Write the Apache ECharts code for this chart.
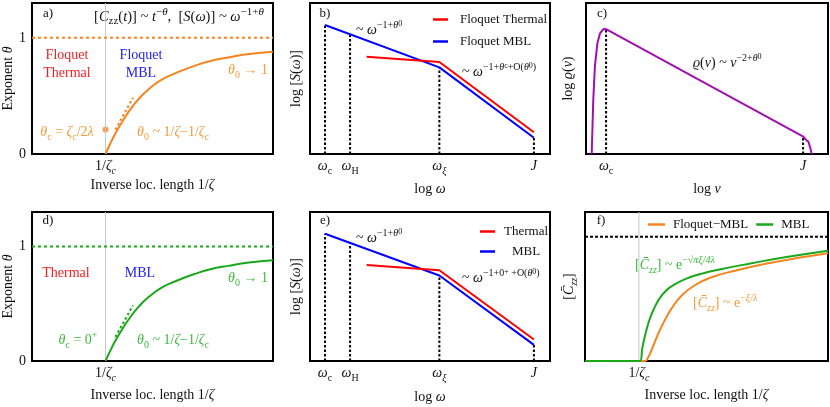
<!DOCTYPE html>
<html><head><meta charset="utf-8">
<script src="https://cdn.jsdelivr.net/npm/echarts@6/dist/echarts.min.js"></script>
<style>html,body{margin:0;padding:0;background:#fff}#c{width:830px;height:407px}</style>
</head><body><div id="c"></div>
<script>
// ================= DATA =================
// Panels a) and d): exponent theta vs inverse localization length (arbitrary units 0..100)
const invZetaC = 30.5;
const thetaX = [30.5, 32.5, 34.4, 37.5, 40.0, 44.1, 48.5, 53.8, 60, 67.6, 74, 81.3, 90, 100];
const thetaFloquet = [0, 0.09, 0.17, 0.28, 0.36, 0.47, 0.56, 0.64, 0.70, 0.76, 0.80, 0.83, 0.86, 0.88];
const thetaStatic = [0, 0.09, 0.17, 0.28, 0.36, 0.47, 0.56, 0.64, 0.70, 0.76, 0.80, 0.83, 0.86, 0.88];
const tangentX = [34.6, 41.9];
const tangentY = [0.21, 0.485];
const thetaCritical = 0.21;
const thetaTickVals = [0, 1];
const thetaTickLabels = ['0', '1'];
const invZetaTickVals = [30.5];
const invZetaTickLabels = ['{n|1/}{i|ζ}{isub|c}'];

// Panels b) and e): log S(omega) vs log omega
const specBlueX = [6.25, 53.9, 93.3];
const specBlueY = [85.4, 57.4, 10.8];
const specRedX = [23.6, 53.9, 93.3];
const specRedY = [64.4, 60.9, 14.4];
const specTickX = [6.25, 16.7, 53.9, 93.3];
const specTickLabels = ['{i|ω}{sub|c}', '{i|ω}{sub|H}', '{i|ω}{isub|ξ}', '{i|J}'];
const specDotTop = [85.4, 79.3, 57.4, 10.8];

// Panel c): log rho(nu) vs log nu
const rhoX = [2.36, 3.0, 3.7, 4.7, 5.8, 7.1, 8.1, 8.6, 89.8, 90.9, 91.9, 92.7, 93.3];
const rhoY = [0, 35.8, 58.5, 73.3, 79.9, 82.6, 82.8, 82.1, 11.5, 9.5, 8.1, 4, 0];
const rhoTickX = [8.3, 89.7];
const rhoTickLabels = ['{i|ω}{sub|c}', '{i|J}'];
const rhoDotTop = [82.7, 11.5];

// Panel f): [C_zz] vs inverse localization length
const corrZetaC = 22.2;
const corrLevel = 83.4;
const corrMblX = [0, 22.6, 23.6, 24.7, 26.1, 27.4, 28.8, 30.5, 32.9, 35.7, 41.2, 48, 54.9, 68.6, 82.3, 100];
const corrMblY = [0, 0, 9.0, 17.0, 25.5, 31.5, 36.5, 41.5, 46.5, 50.2, 55.0, 58.6, 61.3, 65.6, 69.6, 74];
const corrFloqX = [0, 24.7, 26.1, 27.4, 30.2, 32.9, 35.7, 39.8, 45.3, 52.1, 61.7, 75.4, 89.2, 100];
const corrFloqY = [0, 0, 2.9, 7.4, 18.6, 27.5, 35.5, 44.0, 51, 56.2, 60.6, 65.6, 69.6, 72.3];
const corrTickVals = [22.2];
const corrTickLabels = ['{n|1/}{i|ζ}{isub|c}'];

// ================= STYLE =================
const SERIF = '"Liberation Serif","DejaVu Serif",serif';
const ORANGE = '#f5841f', ORANGE_T = '#f39a3a';
const GREEN = '#1aa81a', GREEN_T = '#3cb83c';
const RED = '#ff0000', BLUE = '#0000ff', PURPLE = '#a010b0';
const RED_T = '#ee2222', BLUE_T = '#2222ee';

function rich(color, size) {
  size = size || 14;
  const s = Math.round(size * 0.74), ss = Math.round(size * 0.55);
  const base = {fontFamily: SERIF, color: color};
  return {
    n: Object.assign({fontSize: size, lineHeight: 20}, base),
    i: Object.assign({fontSize: size, fontStyle: 'italic', lineHeight: 20}, base),
    sub: Object.assign({fontSize: s, verticalAlign: 'bottom', lineHeight: 14}, base),
    isub: Object.assign({fontSize: s, fontStyle: 'italic', verticalAlign: 'bottom', lineHeight: 14}, base),
    sup: Object.assign({fontSize: s, verticalAlign: 'top', lineHeight: 11}, base),
    isup: Object.assign({fontSize: s, fontStyle: 'italic', verticalAlign: 'top', lineHeight: 11}, base),
    ssub: Object.assign({fontSize: ss, verticalAlign: 'top', lineHeight: 16}, base)
  };
}

function pairs(xs, ys) { return xs.map((x, i) => [x, ys[i]]); }

const grids = [
  {left: 32, top: 3, width: 241, height: 151},
  {left: 310, top: 3, width: 240, height: 151},
  {left: 586, top: 3, width: 242, height: 151},
  {left: 32, top: 212, width: 241, height: 149},
  {left: 310, top: 212, width: 240, height: 149},
  {left: 585, top: 212, width: 243, height: 149}
].map(g => Object.assign({show: true, borderColor: '#000', borderWidth: 2, containLabel: false}, g));

function xAx(idx, name, vals, labels, gap) {
  return {
    type: 'value', gridIndex: idx, min: 0, max: 100,
    axisLine: {show: false}, axisTick: {show: false}, splitLine: {show: false},
    axisLabel: {
      show: true, customValues: vals, margin: 2,
      formatter: v => { const k = vals.findIndex(t => Math.abs(t - v) < 1e-6); return k >= 0 ? labels[k] : ''; },
      rich: rich('#111', 14)
    },
    name: name, nameLocation: 'middle', nameGap: gap,
    nameTextStyle: {fontFamily: SERIF, fontSize: 14, color: '#111', rich: rich('#111', 14)}
  };
}
function yAx(idx, name, max, vals, labels, gap) {
  return {
    type: 'value', gridIndex: idx, min: 0, max: max,
    axisLine: {show: false}, axisTick: {show: false}, splitLine: {show: false},
    axisLabel: {
      show: !!vals, customValues: vals || [], margin: 6,
      formatter: v => { if (!vals) return ''; const k = vals.findIndex(t => Math.abs(t - v) < 1e-6); return k >= 0 ? labels[k] : ''; },
      fontFamily: SERIF, fontSize: 14, color: '#111'
    },
    name: name, nameLocation: 'middle', nameGap: gap, nameRotate: 90,
    nameTextStyle: {fontFamily: SERIF, fontSize: 14, color: '#111', rich: rich('#111', 14)}
  };
}

const xName1 = '{n|Inverse loc. length 1/}{i|ζ}';
const xAxes = [
  xAx(0, xName1, invZetaTickVals, invZetaTickLabels, 21),
  xAx(1, '{n|log }{i|ω}', specTickX, specTickLabels, 25),
  xAx(2, '{n|log }{i|ν}', rhoTickX, rhoTickLabels, 25),
  xAx(3, xName1, invZetaTickVals, invZetaTickLabels, 24),
  xAx(4, '{n|log }{i|ω}', specTickX, specTickLabels, 26),
  xAx(5, xName1, corrTickVals, corrTickLabels, 24)
];
const yAxes = [
  yAx(0, '{n|Exponent }{i|θ}', 1.3, thetaTickVals, thetaTickLabels, 12),
  yAx(1, '{n|log [}{i|S}{n|(}{i|ω}{n|)]}', 100, null, null, 4),
  yAx(2, '{n|log }{i|ϱ}{n|(}{i|ν}{n|)}', 100, null, null, 8),
  yAx(3, '{n|Exponent }{i|θ}', 1.3, thetaTickVals, thetaTickLabels, 12),
  yAx(4, '{n|log [}{i|S}{n|(}{i|ω}{n|)]}', 100, null, null, 4),
  yAx(5, '{n|[}{i|C̄}{isub|zz}{n|]}', 100, null, null, 6)
];

function line(gi, data, color, width, type, extra) {
  return Object.assign({
    type: 'line', xAxisIndex: gi, yAxisIndex: gi, data: data, showSymbol: false, symbol: 'none',
    silent: true, animation: false, color: color,
    lineStyle: {color: color, width: width, type: type || 'solid'}
  }, extra || {});
}

const series = [];
const DOT = [2.5, 2];
// ---- a)
series.push(line(0, [[invZetaC, 0], [invZetaC, 1.3]], '#c8c8c8', 1));
series.push(line(0, [[0, 1], [100, 1]], ORANGE, 2, [3, 3]));
series.push(line(0, pairs(tangentX, tangentY), ORANGE, 2, [2.5, 2.5]));
series.push(line(0, pairs(thetaX, thetaFloquet), ORANGE, 2, 'solid', {smooth: 0.5}));
series.push({type: 'scatter', xAxisIndex: 0, yAxisIndex: 0, data: [[invZetaC, thetaCritical]], symbolSize: 6,
  itemStyle: {color: ORANGE}, silent: true, animation: false});
// ---- d)
series.push(line(3, [[invZetaC, 0], [invZetaC, 1.3]], '#c8c8c8', 1));
series.push(line(3, [[0, 1], [100, 1]], GREEN, 2, [3, 3]));
series.push(line(3, pairs(tangentX, tangentY), GREEN, 2, [2.5, 2.5]));
series.push(line(3, pairs(thetaX, thetaStatic), GREEN, 2, 'solid', {smooth: 0.5}));
// ---- b) and e)
[1, 4].forEach(gi => {
  specTickX.forEach((x, k) => series.push(line(gi, [[x, 0], [x, specDotTop[k]]], '#000', 2, DOT)));
  series.push(line(gi, pairs(specBlueX, specBlueY), BLUE, 2, 'solid', {name: gi === 1 ? 'Floquet MBL' : 'MBL'}));
  series.push(line(gi, pairs(specRedX, specRedY), RED, 2, 'solid', {name: gi === 1 ? 'Floquet Thermal' : 'Thermal'}));
});
// ---- c)
rhoTickX.forEach((x, k) => series.push(line(2, [[x, 0], [x, rhoDotTop[k]]], '#000', 2, DOT)));
series.push(line(2, pairs(rhoX, rhoY), PURPLE, 2));
// ---- f)
series.push(line(5, [[corrZetaC, 0], [corrZetaC, 100]], '#c8c8c8', 1));
series.push(line(5, [[0, corrLevel], [100, corrLevel]], '#000', 2, [3, 2]));
series.push(line(5, pairs(corrFloqX, corrFloqY), ORANGE, 2, 'solid', {name: 'Floquet−MBL', smooth: 0.5}));
series.push(line(5, pairs(corrMblX, corrMblY), GREEN, 2, 'solid', {name: 'MBL ', smooth: 0.5}));

const legendText = {fontFamily: SERIF, fontSize: 13, color: '#111'};
const legends = [
  {data: ['Floquet Thermal', 'Floquet MBL'], orient: 'vertical', left: 428, top: 8, icon: 'rect',
    itemWidth: 15, itemHeight: 2.5, itemGap: 9, selectedMode: false,
    textStyle: Object.assign({padding: [0, 0, 0, 7]}, legendText)},
  {data: ['Thermal', 'MBL'], orient: 'vertical', left: 475, top: 220, icon: 'rect',
    itemWidth: 15, itemHeight: 2.5, itemGap: 7, selectedMode: false,
    formatter: n => '{c|' + n + '}',
    textStyle: Object.assign({rich: {c: Object.assign({width: 52, align: 'center'}, legendText)}}, legendText)},
  {data: ['Floquet−MBL', 'MBL '], orient: 'horizontal', left: 648, top: 218, width: 182, icon: 'rect',
    itemWidth: 17, itemHeight: 2.5, itemGap: 8, selectedMode: false, padding: 0,
    textStyle: Object.assign({padding: [0, 0, 0, 3]}, legendText)}
];

function txt(x, y, text, color, align, size) {
  return {type: 'text', x: x, y: y, silent: true,
    style: {text: text, rich: rich(color, size || 14), align: align || 'center', verticalAlign: 'middle',
      fontFamily: SERIF, fontSize: size || 14, fill: color}};
}
const th0 = '{i|θ}{sub|0}';
const graphics = [
  // a)
  txt(48, 14, '{n|a)}', '#111', 'center', 13),
  txt(179, 17, '{n|[}{i|C}{sub|zz}{n|(}{i|t}{n|)] ~ }{i|t}{sup|−}{isup|θ}{n|,  [}{i|S}{n|(}{i|ω}{n|)] ~ }{i|ω}{sup|−1+}{isup|θ}', '#111', 'center', 14.5),
  txt(67, 55, '{n|Floquet}', RED_T), txt(67, 73, '{n|Thermal}', RED_T),
  txt(141, 55, '{n|Floquet}', BLUE_T), txt(141, 73, '{n|MBL}', BLUE_T),
  txt(248, 70, th0 + '{n| → 1}', ORANGE_T),
  txt(67, 132, '{i|θ}{sub|c}{n| = }{i|ζ}{sub|c}{n|/2}{i|λ}', ORANGE_T),
  txt(173, 132, th0 + '{n| ~ 1/}{i|ζ}{n|−1/}{i|ζ}{sub|c}', ORANGE_T),
  // b)
  txt(325, 14, '{n|b)}', '#111', 'center', 13),
  txt(356, 30, '{n|~ }{i|ω}{sup|−1+}{isup|θ}{ssub|0}', '#111', 'left', 14),
  txt(462, 72, '{n|~ }{i|ω}{sup|−1+}{isup|θ}{ssub|c}{sup|+O(}{isup|θ}{ssub|0}{sup|)}', '#111', 'left', 14),
  // c)
  txt(602, 14, '{n|c)}', '#111', 'center', 13),
  txt(693, 63, '{i|ϱ}{n|(}{i|ν}{n|) ~ }{i|ν}{sup|−2+}{isup|θ}{ssub|0}', '#111', 'left', 14),
  // d)
  txt(48, 221, '{n|d)}', '#111', 'center', 13),
  txt(66, 273, '{n|Thermal}', RED_T), txt(140, 273, '{n|MBL}', BLUE_T),
  txt(248, 278, th0 + '{n| → 1}', GREEN_T),
  txt(78, 340, '{i|θ}{sub|c}{n| = 0}{sup|+}', GREEN_T),
  txt(173, 340, th0 + '{n| ~ 1/}{i|ζ}{n|−1/}{i|ζ}{sub|c}', GREEN_T),
  // e)
  txt(325, 221, '{n|e)}', '#111', 'center', 13),
  txt(356, 238, '{n|~ }{i|ω}{sup|−1+}{isup|θ}{ssub|0}', '#111', 'left', 14),
  txt(462, 278, '{n|~ }{i|ω}{sup|−1+0}{ssub|+}{sup| +O(}{isup|θ}{ssub|0}{sup|)}', '#111', 'left', 14),
  // f)
  txt(601, 221, '{n|f)}', '#111', 'center', 13),
  txt(635, 265, '{n|[}{i|C̄}{isub|zz}{n|] ~ e}{sup|−√}{isup|πξ/4λ}', GREEN_T, 'left', 14),
  txt(693, 303, '{n|[}{i|C̄}{isub|zz}{n|] ~ e}{sup|−}{isup|ξ/λ}', ORANGE_T, 'left', 14)
];

const chart = echarts.init(document.getElementById('c'), null, {renderer: 'canvas'});
chart.setOption({
  backgroundColor: '#fff', animation: false,
  grid: grids, xAxis: xAxes, yAxis: yAxes, series: series, legend: legends, graphic: graphics
});
</script>
</body></html>
